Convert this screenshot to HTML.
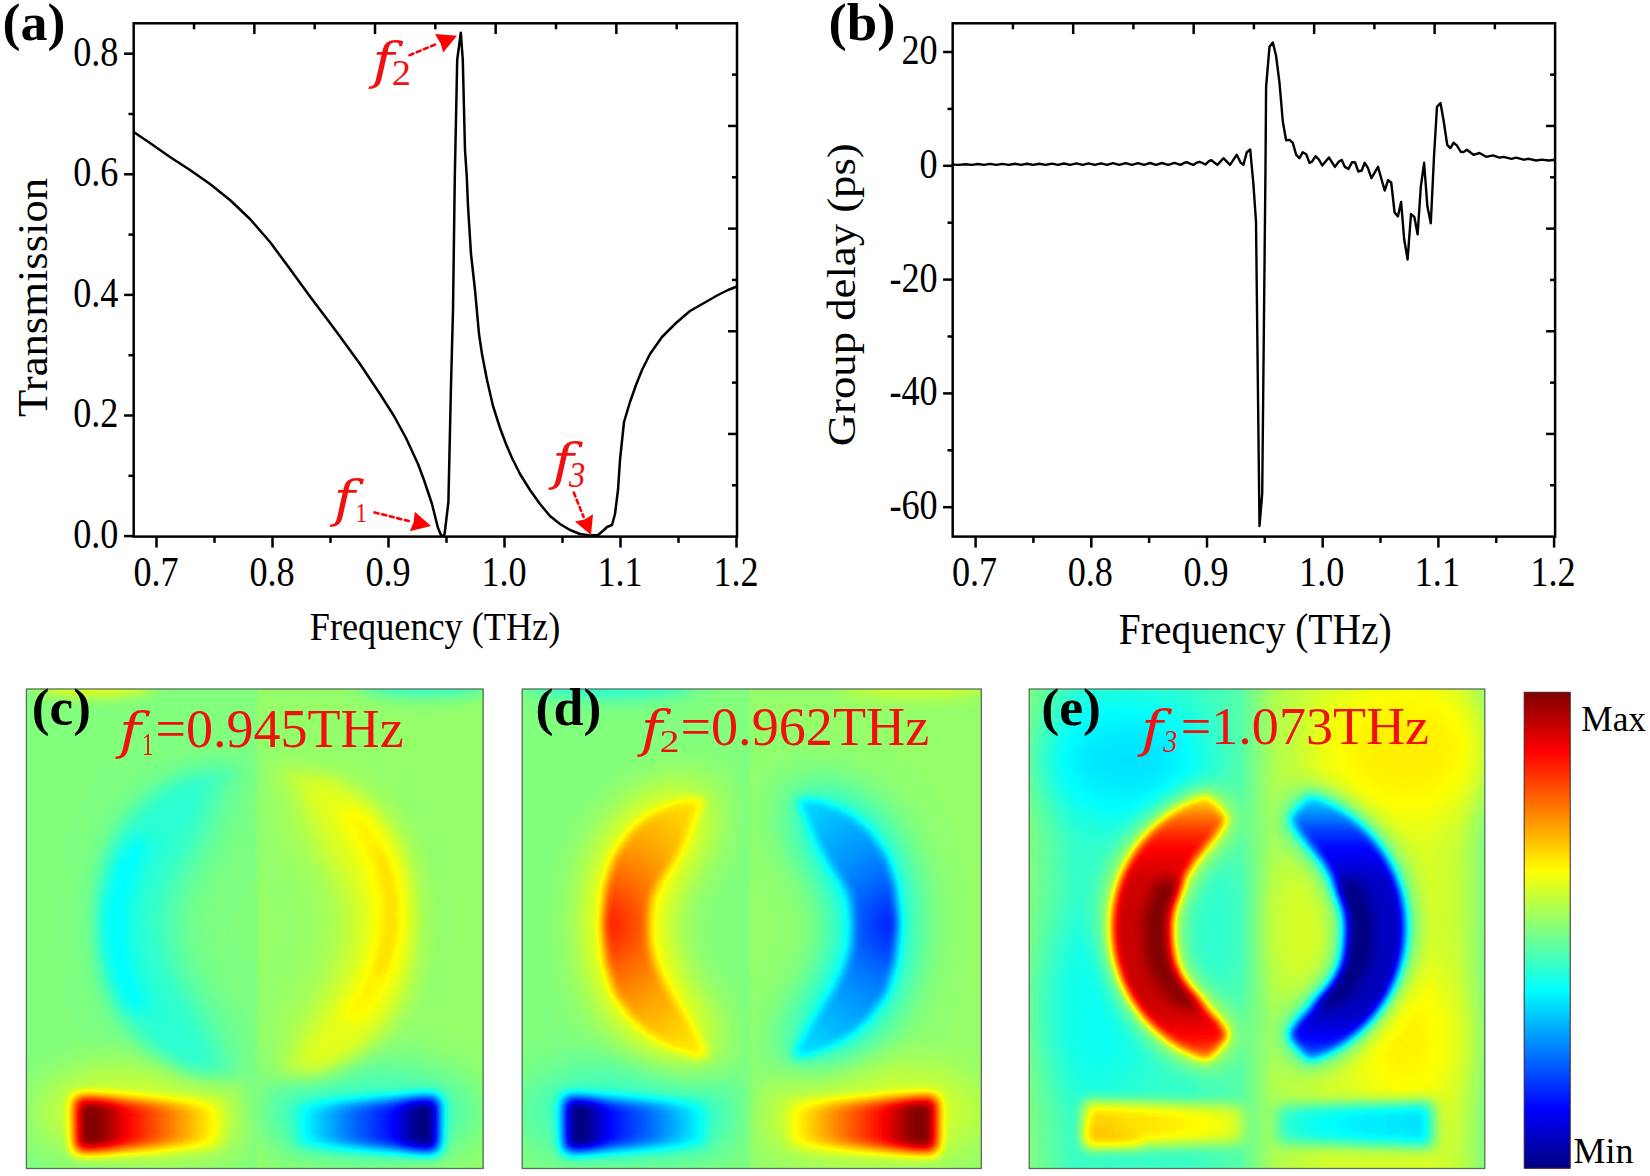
<!DOCTYPE html>
<html><head><meta charset="utf-8"><title>Figure</title>
<style>html,body{margin:0;padding:0;background:#fff}svg{display:block}text{font-family:'Liberation Serif', 'Times New Roman', serif}</style></head>
<body><svg width="1650" height="1176" viewBox="0 0 1650 1176">
<rect width="1650" height="1176" fill="#fff"/>
<rect x="133.7" y="23.3" width="603.30" height="513.30" fill="#fff" stroke="#000" stroke-width="2.5"/>
<line x1="124.10" y1="53.70" x2="133.70" y2="53.70" stroke="#000" stroke-width="2.5" stroke-linecap="butt"/>
<line x1="124.10" y1="174.30" x2="133.70" y2="174.30" stroke="#000" stroke-width="2.5" stroke-linecap="butt"/>
<line x1="124.10" y1="294.90" x2="133.70" y2="294.90" stroke="#000" stroke-width="2.5" stroke-linecap="butt"/>
<line x1="124.10" y1="415.50" x2="133.70" y2="415.50" stroke="#000" stroke-width="2.5" stroke-linecap="butt"/>
<line x1="124.10" y1="536.10" x2="133.70" y2="536.10" stroke="#000" stroke-width="2.5" stroke-linecap="butt"/>
<line x1="128.50" y1="114.00" x2="133.70" y2="114.00" stroke="#000" stroke-width="2.5" stroke-linecap="butt"/>
<line x1="128.50" y1="234.60" x2="133.70" y2="234.60" stroke="#000" stroke-width="2.5" stroke-linecap="butt"/>
<line x1="128.50" y1="355.20" x2="133.70" y2="355.20" stroke="#000" stroke-width="2.5" stroke-linecap="butt"/>
<line x1="128.50" y1="475.80" x2="133.70" y2="475.80" stroke="#000" stroke-width="2.5" stroke-linecap="butt"/>
<line x1="156.50" y1="536.60" x2="156.50" y2="547.60" stroke="#000" stroke-width="2.5" stroke-linecap="butt"/>
<line x1="272.50" y1="536.60" x2="272.50" y2="547.60" stroke="#000" stroke-width="2.5" stroke-linecap="butt"/>
<line x1="388.50" y1="536.60" x2="388.50" y2="547.60" stroke="#000" stroke-width="2.5" stroke-linecap="butt"/>
<line x1="504.50" y1="536.60" x2="504.50" y2="547.60" stroke="#000" stroke-width="2.5" stroke-linecap="butt"/>
<line x1="620.50" y1="536.60" x2="620.50" y2="547.60" stroke="#000" stroke-width="2.5" stroke-linecap="butt"/>
<line x1="736.50" y1="536.60" x2="736.50" y2="547.60" stroke="#000" stroke-width="2.5" stroke-linecap="butt"/>
<line x1="214.50" y1="536.60" x2="214.50" y2="542.90" stroke="#000" stroke-width="2.5" stroke-linecap="butt"/>
<line x1="330.50" y1="536.60" x2="330.50" y2="542.90" stroke="#000" stroke-width="2.5" stroke-linecap="butt"/>
<line x1="446.50" y1="536.60" x2="446.50" y2="542.90" stroke="#000" stroke-width="2.5" stroke-linecap="butt"/>
<line x1="562.50" y1="536.60" x2="562.50" y2="542.90" stroke="#000" stroke-width="2.5" stroke-linecap="butt"/>
<line x1="678.50" y1="536.60" x2="678.50" y2="542.90" stroke="#000" stroke-width="2.5" stroke-linecap="butt"/>
<line x1="254.36" y1="23.30" x2="254.36" y2="34.10" stroke="#000" stroke-width="2.5" stroke-linecap="butt"/>
<line x1="375.02" y1="23.30" x2="375.02" y2="34.10" stroke="#000" stroke-width="2.5" stroke-linecap="butt"/>
<line x1="495.68" y1="23.30" x2="495.68" y2="34.10" stroke="#000" stroke-width="2.5" stroke-linecap="butt"/>
<line x1="616.34" y1="23.30" x2="616.34" y2="34.10" stroke="#000" stroke-width="2.5" stroke-linecap="butt"/>
<line x1="194.03" y1="23.30" x2="194.03" y2="29.30" stroke="#000" stroke-width="2.5" stroke-linecap="butt"/>
<line x1="314.69" y1="23.30" x2="314.69" y2="29.30" stroke="#000" stroke-width="2.5" stroke-linecap="butt"/>
<line x1="435.35" y1="23.30" x2="435.35" y2="29.30" stroke="#000" stroke-width="2.5" stroke-linecap="butt"/>
<line x1="556.01" y1="23.30" x2="556.01" y2="29.30" stroke="#000" stroke-width="2.5" stroke-linecap="butt"/>
<line x1="676.67" y1="23.30" x2="676.67" y2="29.30" stroke="#000" stroke-width="2.5" stroke-linecap="butt"/>
<line x1="737.00" y1="125.96" x2="728.00" y2="125.96" stroke="#000" stroke-width="2.5" stroke-linecap="butt"/>
<line x1="737.00" y1="228.62" x2="728.00" y2="228.62" stroke="#000" stroke-width="2.5" stroke-linecap="butt"/>
<line x1="737.00" y1="331.28" x2="728.00" y2="331.28" stroke="#000" stroke-width="2.5" stroke-linecap="butt"/>
<line x1="737.00" y1="433.94" x2="728.00" y2="433.94" stroke="#000" stroke-width="2.5" stroke-linecap="butt"/>
<line x1="737.00" y1="74.63" x2="732.00" y2="74.63" stroke="#000" stroke-width="2.5" stroke-linecap="butt"/>
<line x1="737.00" y1="177.29" x2="732.00" y2="177.29" stroke="#000" stroke-width="2.5" stroke-linecap="butt"/>
<line x1="737.00" y1="279.95" x2="732.00" y2="279.95" stroke="#000" stroke-width="2.5" stroke-linecap="butt"/>
<line x1="737.00" y1="382.61" x2="732.00" y2="382.61" stroke="#000" stroke-width="2.5" stroke-linecap="butt"/>
<line x1="737.00" y1="485.27" x2="732.00" y2="485.27" stroke="#000" stroke-width="2.5" stroke-linecap="butt"/>
<path d="M133.7,132.0 L150.0,143.0 L170.0,157.0 L190.0,170.0 L210.0,184.0 L230.0,200.0 L250.0,219.0 L270.0,242.0 L290.0,269.0 L310.0,296.5 L330.0,323.0 L340.0,336.5 L360.0,364.0 L380.0,394.0 L394.0,416.0 L406.0,438.0 L418.0,464.0 L424.0,480.0 L432.0,504.0 L438.0,528.0 L441.0,535.0 L443.4,536.2 L444.6,534.0 L448.4,502.0 L451.0,385.0 L453.0,310.0 L454.8,177.0 L457.2,60.0 L460.8,32.7 L462.8,60.0 L465.0,150.0 L466.8,177.0 L468.0,206.0 L471.0,254.0 L475.0,290.0 L479.0,334.0 L482.0,354.0 L487.0,380.0 L493.0,406.0 L500.0,428.0 L506.0,444.0 L512.0,458.0 L520.0,474.0 L530.0,490.0 L540.0,504.0 L550.0,516.0 L560.0,524.0 L570.0,530.0 L580.0,534.0 L590.0,535.6 L598.0,535.0 L604.0,530.0 L607.0,527.0 L612.0,525.0 L615.0,514.0 L618.0,490.0 L620.0,460.0 L624.0,422.0 L630.0,402.0 L636.0,385.0 L642.0,370.0 L650.0,354.0 L662.0,337.0 L676.0,323.0 L690.0,311.0 L704.0,303.0 L718.0,295.0 L728.0,290.0 L737.0,286.5" fill="none" stroke="#000" stroke-width="2.5" stroke-linejoin="round"/>
<text transform="translate(118.45,65.59) scale(1,1.1550)" font-size="36.20" text-anchor="end" fill="#000">0.8</text>
<text transform="translate(118.45,186.19) scale(1,1.1550)" font-size="36.20" text-anchor="end" fill="#000">0.6</text>
<text transform="translate(118.45,306.79) scale(1,1.1550)" font-size="36.20" text-anchor="end" fill="#000">0.4</text>
<text transform="translate(118.45,427.39) scale(1,1.1550)" font-size="36.20" text-anchor="end" fill="#000">0.2</text>
<text transform="translate(118.45,547.99) scale(1,1.1550)" font-size="36.20" text-anchor="end" fill="#000">0.0</text>
<text transform="translate(156.10,585.58) scale(1,1.1550)" font-size="36.20" text-anchor="middle" fill="#000">0.7</text>
<text transform="translate(272.10,585.58) scale(1,1.1550)" font-size="36.20" text-anchor="middle" fill="#000">0.8</text>
<text transform="translate(388.10,585.58) scale(1,1.1550)" font-size="36.20" text-anchor="middle" fill="#000">0.9</text>
<text transform="translate(504.10,585.58) scale(1,1.1550)" font-size="36.20" text-anchor="middle" fill="#000">1.0</text>
<text transform="translate(620.10,585.58) scale(1,1.1550)" font-size="36.20" text-anchor="middle" fill="#000">1.1</text>
<text transform="translate(736.10,585.58) scale(1,1.1550)" font-size="36.20" text-anchor="middle" fill="#000">1.2</text>
<text transform="translate(2.54,39.96) scale(1,0.9736)" font-size="53.98" font-weight="bold" fill="#000">(a)</text>
<text transform="translate(309.81,639.94) scale(1,1.1256)" font-size="36.23" fill="#000">Frequency (THz)</text>
<text transform="translate(47.08,416.89) rotate(-90) scale(1,0.9397)" font-size="44.66" fill="#000">Transmission</text>
<text transform="translate(372.28,78.28) scale(1.169,1.0000)" font-size="51.04" font-style="italic" style="font-family:'DejaVu Serif','Liberation Serif',serif" fill="#f01010">f</text>
<text transform="translate(391.76,84.70) scale(1,0.9351)" font-size="38.50" fill="#f01010">2</text>
<line x1="409.5" y1="55.2" x2="437.5" y2="43.6" stroke="#f00" stroke-width="2.6" stroke-dasharray="4.2 3.6" stroke-linecap="round"/>
<path d="M456.9,35.7 L435.0,34.0 L440.6,43.4 L443.2,52.5Z" fill="#f00" stroke="none" />
<text transform="translate(333.52,516.28) scale(1.148,1.0000)" font-size="51.04" font-style="italic" style="font-family:'DejaVu Serif','Liberation Serif',serif" fill="#f01010">f</text>
<text transform="translate(355.44,522.00) scale(1,1.2263)" font-size="22.86" fill="#f01010">1</text>
<line x1="374.5" y1="512.4" x2="411" y2="521.6" stroke="#f00" stroke-width="2.6" stroke-dasharray="4.2 3.6" stroke-linecap="round"/>
<path d="M431.0,526.0 L414.8,511.8 L413.6,522.2 L409.8,531.2Z" fill="#f00" stroke="none" />
<text transform="translate(552.07,479.28) scale(1.165,1.0000)" font-size="51.04" font-style="italic" style="font-family:'DejaVu Serif','Liberation Serif',serif" fill="#f01010">f</text>
<text transform="translate(569.00,487.15) scale(1,1.0687)" font-size="32.61" font-style="italic" fill="#f01010">3</text>
<line x1="573.8" y1="492.5" x2="583.6" y2="517" stroke="#f00" stroke-width="2.6" stroke-dasharray="4.2 3.6" stroke-linecap="round"/>
<path d="M591.0,535.0 L575.0,521.4 L584.6,519.5 L593.0,514.2Z" fill="#f00" stroke="none" />
<rect x="952.7" y="23.3" width="602.40" height="513.30" fill="#fff" stroke="#000" stroke-width="2.5"/>
<line x1="943.10" y1="52.00" x2="952.70" y2="52.00" stroke="#000" stroke-width="2.5" stroke-linecap="butt"/>
<line x1="943.10" y1="165.80" x2="952.70" y2="165.80" stroke="#000" stroke-width="2.5" stroke-linecap="butt"/>
<line x1="943.10" y1="279.60" x2="952.70" y2="279.60" stroke="#000" stroke-width="2.5" stroke-linecap="butt"/>
<line x1="943.10" y1="393.40" x2="952.70" y2="393.40" stroke="#000" stroke-width="2.5" stroke-linecap="butt"/>
<line x1="943.10" y1="507.20" x2="952.70" y2="507.20" stroke="#000" stroke-width="2.5" stroke-linecap="butt"/>
<line x1="947.50" y1="108.90" x2="952.70" y2="108.90" stroke="#000" stroke-width="2.5" stroke-linecap="butt"/>
<line x1="947.50" y1="222.70" x2="952.70" y2="222.70" stroke="#000" stroke-width="2.5" stroke-linecap="butt"/>
<line x1="947.50" y1="336.50" x2="952.70" y2="336.50" stroke="#000" stroke-width="2.5" stroke-linecap="butt"/>
<line x1="947.50" y1="450.30" x2="952.70" y2="450.30" stroke="#000" stroke-width="2.5" stroke-linecap="butt"/>
<line x1="975.60" y1="536.60" x2="975.60" y2="547.60" stroke="#000" stroke-width="2.5" stroke-linecap="butt"/>
<line x1="1091.30" y1="536.60" x2="1091.30" y2="547.60" stroke="#000" stroke-width="2.5" stroke-linecap="butt"/>
<line x1="1207.00" y1="536.60" x2="1207.00" y2="547.60" stroke="#000" stroke-width="2.5" stroke-linecap="butt"/>
<line x1="1322.70" y1="536.60" x2="1322.70" y2="547.60" stroke="#000" stroke-width="2.5" stroke-linecap="butt"/>
<line x1="1438.40" y1="536.60" x2="1438.40" y2="547.60" stroke="#000" stroke-width="2.5" stroke-linecap="butt"/>
<line x1="1554.10" y1="536.60" x2="1554.10" y2="547.60" stroke="#000" stroke-width="2.5" stroke-linecap="butt"/>
<line x1="1033.40" y1="536.60" x2="1033.40" y2="542.90" stroke="#000" stroke-width="2.5" stroke-linecap="butt"/>
<line x1="1149.10" y1="536.60" x2="1149.10" y2="542.90" stroke="#000" stroke-width="2.5" stroke-linecap="butt"/>
<line x1="1264.80" y1="536.60" x2="1264.80" y2="542.90" stroke="#000" stroke-width="2.5" stroke-linecap="butt"/>
<line x1="1380.50" y1="536.60" x2="1380.50" y2="542.90" stroke="#000" stroke-width="2.5" stroke-linecap="butt"/>
<line x1="1496.20" y1="536.60" x2="1496.20" y2="542.90" stroke="#000" stroke-width="2.5" stroke-linecap="butt"/>
<line x1="1073.18" y1="23.30" x2="1073.18" y2="34.10" stroke="#000" stroke-width="2.5" stroke-linecap="butt"/>
<line x1="1193.66" y1="23.30" x2="1193.66" y2="34.10" stroke="#000" stroke-width="2.5" stroke-linecap="butt"/>
<line x1="1314.14" y1="23.30" x2="1314.14" y2="34.10" stroke="#000" stroke-width="2.5" stroke-linecap="butt"/>
<line x1="1434.62" y1="23.30" x2="1434.62" y2="34.10" stroke="#000" stroke-width="2.5" stroke-linecap="butt"/>
<line x1="1012.94" y1="23.30" x2="1012.94" y2="29.30" stroke="#000" stroke-width="2.5" stroke-linecap="butt"/>
<line x1="1133.42" y1="23.30" x2="1133.42" y2="29.30" stroke="#000" stroke-width="2.5" stroke-linecap="butt"/>
<line x1="1253.90" y1="23.30" x2="1253.90" y2="29.30" stroke="#000" stroke-width="2.5" stroke-linecap="butt"/>
<line x1="1374.38" y1="23.30" x2="1374.38" y2="29.30" stroke="#000" stroke-width="2.5" stroke-linecap="butt"/>
<line x1="1494.86" y1="23.30" x2="1494.86" y2="29.30" stroke="#000" stroke-width="2.5" stroke-linecap="butt"/>
<line x1="1555.10" y1="125.96" x2="1546.10" y2="125.96" stroke="#000" stroke-width="2.5" stroke-linecap="butt"/>
<line x1="1555.10" y1="228.62" x2="1546.10" y2="228.62" stroke="#000" stroke-width="2.5" stroke-linecap="butt"/>
<line x1="1555.10" y1="331.28" x2="1546.10" y2="331.28" stroke="#000" stroke-width="2.5" stroke-linecap="butt"/>
<line x1="1555.10" y1="433.94" x2="1546.10" y2="433.94" stroke="#000" stroke-width="2.5" stroke-linecap="butt"/>
<line x1="1555.10" y1="74.63" x2="1550.10" y2="74.63" stroke="#000" stroke-width="2.5" stroke-linecap="butt"/>
<line x1="1555.10" y1="177.29" x2="1550.10" y2="177.29" stroke="#000" stroke-width="2.5" stroke-linecap="butt"/>
<line x1="1555.10" y1="279.95" x2="1550.10" y2="279.95" stroke="#000" stroke-width="2.5" stroke-linecap="butt"/>
<line x1="1555.10" y1="382.61" x2="1550.10" y2="382.61" stroke="#000" stroke-width="2.5" stroke-linecap="butt"/>
<line x1="1555.10" y1="485.27" x2="1550.10" y2="485.27" stroke="#000" stroke-width="2.5" stroke-linecap="butt"/>
<path d="M952.7,164.6 L959.0,164.9 L965.5,164.2 L971.8,164.9 L978.0,164.0 L984.0,164.9 L990.0,163.9 L996.2,164.9 L1002.4,163.9 L1008.7,164.9 L1015.0,163.8 L1021.0,164.9 L1027.0,163.7 L1033.2,164.9 L1039.4,163.7 L1045.7,164.9 L1052.0,163.6 L1058.0,164.9 L1064.0,163.5 L1070.2,164.9 L1076.4,163.4 L1082.5,164.9 L1088.6,163.4 L1094.8,164.9 L1101.0,163.3 L1107.0,164.9 L1113.0,163.2 L1119.3,164.9 L1125.6,163.2 L1131.8,164.9 L1138.0,163.1 L1144.0,164.9 L1150.0,163.0 L1156.0,164.9 L1162.0,163.0 L1168.2,164.9 L1174.4,162.9 L1180.6,164.9 L1184.0,163.0 L1186.7,162.2 L1190.0,163.6 L1193.4,164.9 L1197.0,162.6 L1199.4,161.8 L1202.5,163.0 L1205.4,164.5 L1209.0,161.2 L1211.4,160.2 L1217.4,164.9 L1223.4,158.2 L1230.0,164.9 L1236.7,154.8 L1240.6,162.5 L1243.4,164.9 L1246.8,152.2 L1250.2,149.5 L1253.4,184.0 L1256.0,221.6 L1259.5,526.0 L1262.2,493.7 L1265.4,177.0 L1266.1,86.8 L1269.5,46.7 L1272.8,42.4 L1276.1,56.0 L1279.5,82.8 L1282.8,121.5 L1286.1,140.2 L1289.5,139.9 L1292.8,142.8 L1296.2,154.8 L1299.5,158.2 L1302.8,152.2 L1306.2,154.2 L1309.5,162.9 L1312.2,161.5 L1315.5,156.2 L1318.9,159.5 L1322.2,165.5 L1328.9,157.5 L1334.9,166.9 L1338.9,161.5 L1341.8,159.9 L1344.9,166.9 L1348.5,168.9 L1352.1,162.1 L1355.1,162.5 L1358.3,171.5 L1361.7,170.5 L1364.7,162.8 L1368.0,168.1 L1371.4,178.1 L1378.0,166.8 L1384.7,190.5 L1388.1,180.2 L1391.2,182.5 L1394.6,212.5 L1397.9,216.4 L1401.1,201.9 L1404.2,239.5 L1407.6,259.5 L1411.0,214.0 L1414.4,217.2 L1417.6,234.3 L1420.8,186.8 L1424.1,162.8 L1427.4,206.6 L1430.8,223.2 L1434.1,154.8 L1437.0,106.7 L1440.5,103.0 L1443.5,120.0 L1447.2,144.8 L1450.4,148.1 L1453.5,142.8 L1456.8,145.4 L1460.8,151.8 L1463.5,152.1 L1466.8,149.7 L1473.5,154.8 L1479.5,153.0 L1486.2,156.8 L1492.9,155.4 L1499.5,157.7 L1503.5,156.8 L1511.5,158.8 L1516.2,157.7 L1523.6,159.7 L1528.9,158.8 L1536.2,160.5 L1541.6,159.6 L1548.9,160.5 L1555.0,159.8" fill="none" stroke="#000" stroke-width="2.4" stroke-linejoin="round"/>
<text transform="translate(937.65,63.99) scale(1,1.1550)" font-size="36.20" text-anchor="end" fill="#000">20</text>
<text transform="translate(937.65,177.79) scale(1,1.1550)" font-size="36.20" text-anchor="end" fill="#000">0</text>
<text transform="translate(937.65,291.59) scale(1,1.1550)" font-size="36.20" text-anchor="end" fill="#000">-20</text>
<text transform="translate(937.65,405.39) scale(1,1.1550)" font-size="36.20" text-anchor="end" fill="#000">-40</text>
<text transform="translate(937.65,519.19) scale(1,1.1550)" font-size="36.20" text-anchor="end" fill="#000">-60</text>
<text transform="translate(974.60,585.58) scale(1,1.1550)" font-size="36.20" text-anchor="middle" fill="#000">0.7</text>
<text transform="translate(1090.30,585.58) scale(1,1.1550)" font-size="36.20" text-anchor="middle" fill="#000">0.8</text>
<text transform="translate(1206.00,585.58) scale(1,1.1550)" font-size="36.20" text-anchor="middle" fill="#000">0.9</text>
<text transform="translate(1321.70,585.58) scale(1,1.1550)" font-size="36.20" text-anchor="middle" fill="#000">1.0</text>
<text transform="translate(1437.40,585.58) scale(1,1.1550)" font-size="36.20" text-anchor="middle" fill="#000">1.1</text>
<text transform="translate(1553.10,585.58) scale(1,1.1550)" font-size="36.20" text-anchor="middle" fill="#000">1.2</text>
<text transform="translate(828.61,39.96) scale(1,0.9586)" font-size="54.82" font-weight="bold" fill="#000">(b)</text>
<text transform="translate(1118.82,644.35) scale(1,1.1034)" font-size="39.47" fill="#000">Frequency (THz)</text>
<text transform="translate(855.48,446.19) rotate(-90) scale(1,0.9071)" font-size="44.71" fill="#000">Group delay (ps)</text>
<clipPath id="cpc"><rect x="26.4" y="689.0" width="456.7" height="479.5"/></clipPath>
<g clip-path="url(#cpc)"><g filter="url(#jet)">
<rect x="21.4" y="684.0" width="466.7" height="489.5" fill="#808080"/>
<rect x="257.0" y="684.0" width="231.1" height="489.5" fill="#858585"/>
<ellipse cx="95.0" cy="683.0" rx="60.0" ry="11.0" fill="#a3a3a3" filter="url(#b8)"/>
<ellipse cx="425.0" cy="683.0" rx="65.0" ry="12.0" fill="#666666" filter="url(#b9)"/>
<ellipse cx="150.0" cy="1112.0" rx="115.0" ry="50.0" fill="#999999" filter="url(#b20)" opacity="0.8"/>
<ellipse cx="365.0" cy="1112.0" rx="115.0" ry="50.0" fill="#6b6b6b" filter="url(#b20)" opacity="0.8"/>
<path d="M243.0,771.8 L232.5,769.5 L222.2,770.7 L212.1,773.1 L202.1,776.6 L192.4,781.0 L183.1,786.2 L174.1,792.3 L165.5,799.1 L157.5,806.7 L149.9,815.0 L143.0,823.9 L136.7,833.3 L131.0,843.3 L126.1,853.7 L121.8,864.5 L118.3,875.6 L115.6,886.9 L113.6,898.5 L112.4,910.2 L112.0,922.0 L112.4,933.8 L113.6,945.5 L115.6,957.1 L118.3,968.4 L121.8,979.5 L126.1,990.3 L131.0,1000.7 L136.7,1010.7 L143.0,1020.1 L149.9,1029.0 L157.5,1037.3 L165.5,1044.9 L174.1,1051.7 L183.1,1057.8 L192.4,1063.0 L202.1,1067.4 L212.1,1070.9 L222.2,1073.3 L232.5,1074.5 L243.0,1072.2 L243.0,1072.2 L234.1,1066.7 L225.1,1063.2 L216.4,1059.4 L208.0,1055.0 L199.9,1050.0 L192.1,1044.5 L184.7,1038.5 L177.6,1031.8 L171.0,1024.7 L164.9,1017.1 L159.2,1009.0 L154.1,1000.4 L149.5,991.5 L145.4,982.2 L142.0,972.7 L139.1,962.9 L136.9,952.8 L135.3,942.6 L134.3,932.3 L134.0,922.0 L134.3,911.7 L135.3,901.4 L136.9,891.2 L139.1,881.1 L142.0,871.3 L145.4,861.8 L149.5,852.5 L154.1,843.6 L159.2,835.0 L164.9,826.9 L171.0,819.3 L177.6,812.2 L184.7,805.5 L192.1,799.5 L199.9,794.0 L208.0,789.0 L216.4,784.6 L225.1,780.8 L234.1,777.3 L243.0,771.8Z" fill="#696969" filter="url(#b10)"/>
<path d="M271.7,773.8 L282.0,771.5 L292.0,772.7 L302.0,775.0 L311.7,778.4 L321.2,782.8 L330.4,787.9 L339.2,793.9 L347.6,800.7 L355.5,808.2 L362.9,816.4 L369.7,825.1 L375.8,834.4 L381.4,844.3 L386.2,854.5 L390.4,865.2 L393.8,876.2 L396.5,887.4 L398.4,898.8 L399.6,910.4 L400.0,922.0 L399.6,933.6 L398.4,945.2 L396.5,956.6 L393.8,967.8 L390.4,978.8 L386.2,989.5 L381.4,999.7 L375.8,1009.6 L369.7,1018.9 L362.9,1027.6 L355.5,1035.8 L347.6,1043.3 L339.2,1050.1 L330.4,1056.1 L321.2,1061.2 L311.7,1065.6 L302.0,1069.0 L292.0,1071.3 L282.0,1072.5 L271.7,1070.2 L271.7,1070.2 L280.4,1064.8 L289.1,1061.3 L297.6,1057.5 L305.8,1053.2 L313.7,1048.3 L321.3,1042.8 L328.6,1036.9 L335.4,1030.3 L341.8,1023.3 L347.8,1015.8 L353.4,1007.8 L358.4,999.4 L362.9,990.6 L366.8,981.4 L370.2,972.0 L373.0,962.3 L375.2,952.4 L376.7,942.4 L377.7,932.2 L378.0,922.0 L377.7,911.8 L376.7,901.6 L375.2,891.6 L373.0,881.7 L370.2,872.0 L366.8,862.6 L362.9,853.4 L358.4,844.6 L353.4,836.2 L347.8,828.2 L341.8,820.7 L335.4,813.7 L328.6,807.1 L321.3,801.2 L313.7,795.7 L305.8,790.8 L297.6,786.5 L289.1,782.7 L280.4,779.2 L271.7,773.8Z" fill="#999999" filter="url(#b10)"/>
<path d="M209.0,780.8 L196.0,784.4 L179.0,792.5 L162.0,803.2 L145.0,819.8 L128.0,847.1 L119.0,879.2 L116.0,919.9 L119.0,961.6 L128.0,996.9 L145.0,1022.6 L162.0,1040.8 L179.0,1052.5 L196.0,1061.7 L213.0,1069.7 L231.0,1067.5 L229.0,1051.5 L216.0,1031.7 L204.5,1013.5 L196.0,999.9 L187.5,986.2 L178.0,964.8 L172.0,943.4 L171.0,919.9 L173.0,895.2 L180.0,879.2 L191.0,863.1 L196.0,854.4 L204.5,838.0 L213.0,819.8 L222.0,801.6 L229.0,786.1Z" fill="#6b6b6b" filter="url(#b24)"/>
<path d="M193.0,780.8 L180.0,784.4 L163.0,792.5 L146.0,803.2 L129.0,819.8 L112.0,847.1 L103.0,879.2 L100.0,919.9 L103.0,961.6 L112.0,996.9 L129.0,1022.6 L146.0,1040.8 L163.0,1052.5 L180.0,1061.7 L197.0,1069.7 L215.0,1067.5 L213.0,1051.5 L200.0,1031.7 L188.5,1013.5 L180.0,999.9 L171.5,986.2 L162.0,964.8 L156.0,943.4 L155.0,919.9 L157.0,895.2 L164.0,879.2 L175.0,863.1 L180.0,854.4 L188.5,838.0 L197.0,819.8 L206.0,801.6 L213.0,786.1Z" fill="#6b6b6b" filter="url(#b11)"/>
<path d="M129.8,840.0 L127.0,844.2 L124.4,848.5 L121.9,852.8 L119.7,857.0 L117.6,861.2 L115.7,865.5 L113.9,869.8 L112.3,874.0 L110.8,878.2 L109.5,882.5 L108.3,886.8 L107.2,891.0 L106.2,895.2 L105.4,899.5 L104.7,903.8 L104.2,908.0 L103.7,912.2 L103.4,916.5 L103.2,920.8 L103.1,925.0 L103.1,929.2 L103.3,933.5 L103.6,937.8 L103.9,942.0 L104.5,946.2 L105.1,950.5 L105.8,954.8 L106.7,959.0 L107.7,963.2 L108.9,967.5 L110.2,971.8 L111.6,976.0 L113.1,980.2 L114.8,984.5 L116.7,988.8 L118.7,993.0 L120.8,997.2 L123.2,1001.5 L125.7,1005.8 L128.4,1010.0 L152.8,1010.0 L150.3,1005.8 L148.1,1001.5 L146.0,997.2 L144.0,993.0 L142.2,988.8 L140.5,984.5 L139.0,980.2 L137.5,976.0 L136.3,971.8 L135.1,967.5 L134.1,963.2 L133.1,959.0 L132.3,954.8 L131.6,950.5 L131.0,946.2 L130.6,942.0 L130.2,937.8 L130.0,933.5 L129.8,929.2 L129.8,925.0 L129.9,920.8 L130.1,916.5 L130.4,912.2 L130.8,908.0 L131.3,903.8 L131.9,899.5 L132.7,895.2 L133.6,891.0 L134.5,886.8 L135.6,882.5 L136.9,878.2 L138.2,874.0 L139.7,869.8 L141.3,865.5 L143.0,861.2 L144.9,857.0 L146.9,852.8 L149.1,848.5 L151.4,844.2 L154.0,840.0Z" fill="#5c5c5c" filter="url(#b8)" opacity="0.8"/>
<path d="M306.0,780.8 L319.0,784.4 L336.0,792.5 L353.0,803.2 L370.0,819.8 L387.0,847.1 L396.0,879.2 L399.0,919.9 L396.0,961.6 L387.0,996.9 L370.0,1022.6 L353.0,1040.8 L336.0,1052.5 L319.0,1061.7 L302.0,1069.7 L284.0,1067.5 L286.0,1051.5 L299.0,1031.7 L310.5,1013.5 L319.0,999.9 L327.5,986.2 L337.0,964.8 L343.0,943.4 L344.0,919.9 L342.0,895.2 L335.0,879.2 L324.0,863.1 L319.0,854.4 L310.5,838.0 L302.0,819.8 L293.0,801.6 L286.0,786.1Z" fill="#969696" filter="url(#b24)"/>
<path d="M322.0,780.8 L335.0,784.4 L352.0,792.5 L369.0,803.2 L386.0,819.8 L403.0,847.1 L412.0,879.2 L415.0,919.9 L412.0,961.6 L403.0,996.9 L386.0,1022.6 L369.0,1040.8 L352.0,1052.5 L335.0,1061.7 L318.0,1069.7 L300.0,1067.5 L302.0,1051.5 L315.0,1031.7 L326.5,1013.5 L335.0,999.9 L343.5,986.2 L353.0,964.8 L359.0,943.4 L360.0,919.9 L358.0,895.2 L351.0,879.2 L340.0,863.1 L335.0,854.4 L326.5,838.0 L318.0,819.8 L309.0,801.6 L302.0,786.1Z" fill="#999999" filter="url(#b11)"/>
<path d="M359.8,810.0 L364.9,815.2 L369.5,820.5 L373.7,825.8 L377.5,831.0 L381.0,836.2 L384.1,841.5 L387.0,846.8 L389.7,852.0 L392.0,857.2 L394.2,862.5 L396.1,867.8 L397.8,873.0 L399.2,878.2 L400.5,883.5 L401.6,888.8 L402.5,894.0 L403.2,899.2 L403.7,904.5 L404.0,909.8 L404.1,915.0 L404.0,920.2 L403.8,925.5 L403.4,930.8 L402.8,936.0 L401.9,941.2 L400.9,946.5 L399.7,951.8 L398.3,957.0 L396.7,962.2 L394.9,967.5 L392.9,972.8 L390.6,978.0 L388.1,983.2 L385.3,988.5 L382.2,993.8 L378.8,999.0 L375.2,1004.2 L371.1,1009.5 L366.7,1014.8 L361.8,1020.0 L336.6,1020.0 L340.9,1014.8 L344.8,1009.5 L348.5,1004.2 L351.8,999.0 L354.8,993.8 L357.6,988.5 L360.2,983.2 L362.5,978.0 L364.6,972.8 L366.5,967.5 L368.2,962.2 L369.7,957.0 L371.0,951.8 L372.1,946.5 L373.0,941.2 L373.7,936.0 L374.3,930.8 L374.7,925.5 L374.9,920.2 L375.0,915.0 L374.9,909.8 L374.6,904.5 L374.1,899.2 L373.5,894.0 L372.7,888.8 L371.7,883.5 L370.5,878.2 L369.1,873.0 L367.6,867.8 L365.8,862.5 L363.8,857.2 L361.6,852.0 L359.2,846.8 L356.6,841.5 L353.7,836.2 L350.6,831.0 L347.1,825.8 L343.4,820.5 L339.3,815.2 L334.8,810.0Z" fill="#a6a6a6" filter="url(#b8)" opacity="0.8"/>
<path d="M381.7,850.0 L383.2,853.1 L384.6,856.2 L385.9,859.4 L387.1,862.5 L388.3,865.6 L389.3,868.8 L390.3,871.9 L391.2,875.0 L392.0,878.1 L392.7,881.2 L393.4,884.4 L394.0,887.5 L394.5,890.6 L394.9,893.8 L395.3,896.9 L395.6,900.0 L395.8,903.1 L396.0,906.2 L396.1,909.4 L396.1,912.5 L396.1,915.6 L395.9,918.8 L395.8,921.9 L395.5,925.0 L395.2,928.1 L394.8,931.2 L394.3,934.4 L393.8,937.5 L393.2,940.6 L392.5,943.8 L391.7,946.9 L390.9,950.0 L390.0,953.1 L389.0,956.2 L387.9,959.4 L386.7,962.5 L385.5,965.6 L384.2,968.8 L382.8,971.9 L381.2,975.0 L373.3,975.0 L374.7,971.9 L376.0,968.8 L377.2,965.6 L378.4,962.5 L379.4,959.4 L380.4,956.2 L381.3,953.1 L382.2,950.0 L382.9,946.9 L383.6,943.8 L384.3,940.6 L384.8,937.5 L385.3,934.4 L385.8,931.2 L386.1,928.1 L386.4,925.0 L386.7,921.9 L386.9,918.8 L387.0,915.6 L387.0,912.5 L387.0,909.4 L386.9,906.2 L386.7,903.1 L386.5,900.0 L386.2,896.9 L385.9,893.8 L385.5,890.6 L385.0,887.5 L384.5,884.4 L383.9,881.2 L383.2,878.1 L382.4,875.0 L381.6,871.9 L380.7,868.8 L379.8,865.6 L378.7,862.5 L377.6,859.4 L376.4,856.2 L375.1,853.1 L373.8,850.0Z" fill="#adadad" filter="url(#b5)" opacity="0.6"/>
<linearGradient id="lg1" gradientUnits="userSpaceOnUse" x1="75.0" y1="0.0" x2="222.0" y2="0.0"><stop offset="0.000" stop-color="#ffffff"/><stop offset="0.160" stop-color="#ffffff"/><stop offset="0.360" stop-color="#dfdfdf"/><stop offset="0.660" stop-color="#bfbfbf"/><stop offset="0.920" stop-color="#a3a3a3"/><stop offset="1.000" stop-color="#999999"/></linearGradient>
<path d="M75.0,1097.0 L222.0,1104.0 L222.0,1145.0 L75.0,1152.0Z" fill="url(#lg1)" filter="url(#b6_5)"/>
<linearGradient id="lg2" gradientUnits="userSpaceOnUse" x1="439.0" y1="0.0" x2="296.0" y2="0.0"><stop offset="0.000" stop-color="#000000"/><stop offset="0.160" stop-color="#000000"/><stop offset="0.300" stop-color="#202020"/><stop offset="0.660" stop-color="#404040"/><stop offset="0.920" stop-color="#5c5c5c"/><stop offset="1.000" stop-color="#666666"/></linearGradient>
<path d="M439.0,1097.0 L296.0,1104.0 L296.0,1145.0 L439.0,1152.0Z" fill="url(#lg2)" filter="url(#b6_5)"/>
</g></g>
<rect x="26.4" y="689.0" width="456.7" height="479.5" fill="none" stroke="#56705a" stroke-width="1.3"/>
<text transform="translate(31.87,725.48) scale(1,1.0045)" font-size="53.20" font-weight="bold" fill="#000">(c)</text>
<text transform="translate(119.09,747.50) scale(1.197,1.0000)" font-size="50.00" font-style="italic" style="font-family:'DejaVu Serif','Liberation Serif',serif" fill="#f01010">f</text>
<text transform="translate(141.94,754.80) scale(1,1.3788)" font-size="22.86" fill="#f01010">1</text>
<text transform="translate(155.50,746.51) scale(1,1.0050)" font-size="54.06" fill="#f01010">=0.945THz</text>
<clipPath id="cpd"><rect x="522.2" y="689.0" width="459.1" height="479.5"/></clipPath>
<g clip-path="url(#cpd)"><g filter="url(#jet)">
<rect x="517.2" y="684.0" width="469.1" height="489.5" fill="#808080"/>
<rect x="750.5" y="684.0" width="235.8" height="489.5" fill="#858585"/>
<ellipse cx="610.0" cy="682.0" rx="85.0" ry="14.0" fill="#636363" filter="url(#b10)"/>
<ellipse cx="915.0" cy="682.0" rx="75.0" ry="12.0" fill="#9c9c9c" filter="url(#b10)"/>
<ellipse cx="635.0" cy="1112.0" rx="115.0" ry="50.0" fill="#6b6b6b" filter="url(#b20)" opacity="0.8"/>
<ellipse cx="870.0" cy="1112.0" rx="115.0" ry="50.0" fill="#999999" filter="url(#b20)" opacity="0.8"/>
<path d="M691.0,793.0 L678.0,796.4 L661.0,804.0 L644.0,814.0 L627.0,829.5 L610.0,855.0 L601.0,885.0 L598.0,923.0 L601.0,962.0 L610.0,995.0 L627.0,1019.0 L644.0,1036.0 L661.0,1047.0 L678.0,1055.6 L695.0,1063.0 L713.0,1061.0 L711.0,1046.0 L698.0,1027.5 L686.5,1010.5 L678.0,997.8 L669.5,985.0 L660.0,965.0 L654.0,945.0 L653.0,923.0 L655.0,900.0 L662.0,885.0 L673.0,870.0 L678.0,861.8 L686.5,846.5 L695.0,829.5 L704.0,812.5 L711.0,798.0Z" fill="#bababa" filter="url(#b28)"/>
<radialGradient id="rg3" gradientUnits="userSpaceOnUse" cx="606.0" cy="925.0" r="150.0" gradientTransform="translate(606.0,925.0) scale(1,1.120) translate(-606.0,-925.0)"><stop offset="0.000" stop-color="#d9d9d9"/><stop offset="0.120" stop-color="#d1d1d1"/><stop offset="0.300" stop-color="#c4c4c4"/><stop offset="0.500" stop-color="#b8b8b8"/><stop offset="0.750" stop-color="#adadad"/><stop offset="1.000" stop-color="#a3a3a3"/></radialGradient>
<path d="M691.0,798.0 L679.7,801.1 L663.3,808.4 L647.0,818.0 L630.8,832.8 L614.5,857.1 L605.9,885.9 L603.0,923.0 L605.9,961.1 L614.5,992.9 L630.8,1015.8 L647.1,1032.1 L663.5,1042.7 L680.1,1051.1 L695.7,1058.1 L709.1,1057.9 L706.3,1047.8 L693.9,1030.3 L682.4,1013.3 L673.8,1000.6 L665.1,987.5 L655.3,966.8 L649.1,945.8 L648.0,922.9 L650.2,898.7 L657.7,882.5 L668.8,867.2 L673.7,859.3 L682.1,844.2 L690.6,827.2 L699.5,810.2 L706.5,800.1Z" fill="url(#rg3)" filter="url(#b5)"/>
<path d="M810.0,793.0 L823.0,796.4 L840.0,804.0 L857.0,814.0 L874.0,829.5 L891.0,855.0 L900.0,885.0 L903.0,923.0 L900.0,962.0 L891.0,995.0 L874.0,1019.0 L857.0,1036.0 L840.0,1047.0 L823.0,1055.6 L806.0,1063.0 L788.0,1061.0 L790.0,1046.0 L803.0,1027.5 L814.5,1010.5 L823.0,997.8 L831.5,985.0 L841.0,965.0 L847.0,945.0 L848.0,923.0 L846.0,900.0 L839.0,885.0 L828.0,870.0 L823.0,861.8 L814.5,846.5 L806.0,829.5 L797.0,812.5 L790.0,798.0Z" fill="#474747" filter="url(#b28)"/>
<radialGradient id="rg4" gradientUnits="userSpaceOnUse" cx="895.0" cy="925.0" r="150.0" gradientTransform="translate(895.0,925.0) scale(1,1.120) translate(-895.0,-925.0)"><stop offset="0.000" stop-color="#262626"/><stop offset="0.120" stop-color="#2e2e2e"/><stop offset="0.300" stop-color="#3b3b3b"/><stop offset="0.500" stop-color="#454545"/><stop offset="0.750" stop-color="#4f4f4f"/><stop offset="1.000" stop-color="#595959"/></radialGradient>
<path d="M810.0,798.0 L821.3,801.1 L837.7,808.4 L854.0,818.0 L870.2,832.8 L886.5,857.1 L895.1,885.9 L898.0,923.0 L895.1,961.1 L886.5,992.9 L870.2,1015.8 L853.9,1032.1 L837.5,1042.7 L820.9,1051.1 L805.3,1058.1 L791.9,1057.9 L794.7,1047.8 L807.1,1030.3 L818.6,1013.3 L827.2,1000.6 L835.9,987.5 L845.7,966.8 L851.9,945.8 L853.0,922.9 L850.8,898.7 L843.3,882.5 L832.2,867.2 L827.3,859.3 L818.9,844.2 L810.4,827.2 L801.5,810.2 L794.5,800.1Z" fill="url(#rg4)" filter="url(#b5)"/>
<linearGradient id="lg5" gradientUnits="userSpaceOnUse" x1="564.0" y1="0.0" x2="708.0" y2="0.0"><stop offset="0.000" stop-color="#000000"/><stop offset="0.160" stop-color="#000000"/><stop offset="0.300" stop-color="#202020"/><stop offset="0.660" stop-color="#404040"/><stop offset="0.920" stop-color="#5c5c5c"/><stop offset="1.000" stop-color="#666666"/></linearGradient>
<path d="M564.0,1097.0 L708.0,1104.0 L708.0,1145.0 L564.0,1152.0Z" fill="url(#lg5)" filter="url(#b6_5)"/>
<linearGradient id="lg6" gradientUnits="userSpaceOnUse" x1="937.0" y1="0.0" x2="788.0" y2="0.0"><stop offset="0.000" stop-color="#ffffff"/><stop offset="0.160" stop-color="#ffffff"/><stop offset="0.360" stop-color="#dfdfdf"/><stop offset="0.660" stop-color="#bfbfbf"/><stop offset="0.920" stop-color="#a3a3a3"/><stop offset="1.000" stop-color="#999999"/></linearGradient>
<path d="M937.0,1097.0 L788.0,1104.0 L788.0,1145.0 L937.0,1152.0Z" fill="url(#lg6)" filter="url(#b6_5)"/>
</g></g>
<rect x="522.2" y="689.0" width="459.1" height="479.5" fill="none" stroke="#56705a" stroke-width="1.3"/>
<text transform="translate(535.55,725.48) scale(1,0.9923)" font-size="53.86" font-weight="bold" fill="#000">(d)</text>
<text transform="translate(640.72,745.50) scale(1.172,1.0000)" font-size="50.00" font-style="italic" style="font-family:'DejaVu Serif','Liberation Serif',serif" fill="#f01010">f</text>
<text transform="translate(659.60,752.00) scale(1,0.7692)" font-size="40.00" fill="#f01010">2</text>
<text transform="translate(680.49,744.51) scale(1,1.0030)" font-size="54.17" fill="#f01010">=0.962THz</text>
<clipPath id="cpe"><rect x="1029.2" y="689.0" width="455.6" height="479.5"/></clipPath>
<g clip-path="url(#cpe)"><g filter="url(#jet)">
<linearGradient id="lg7" gradientUnits="userSpaceOnUse" x1="1029.2" y1="0.0" x2="1484.8" y2="0.0"><stop offset="0.000" stop-color="#808080"/><stop offset="0.040" stop-color="#787878"/><stop offset="0.100" stop-color="#6e6e6e"/><stop offset="0.350" stop-color="#6e6e6e"/><stop offset="0.460" stop-color="#757575"/><stop offset="0.500" stop-color="#808080"/><stop offset="0.540" stop-color="#8c8c8c"/><stop offset="0.650" stop-color="#949494"/><stop offset="0.880" stop-color="#969696"/><stop offset="0.940" stop-color="#919191"/><stop offset="0.985" stop-color="#858585"/><stop offset="1.000" stop-color="#808080"/></linearGradient>
<rect x="1024.2" y="684.0" width="465.6" height="489.5" fill="url(#lg7)"/>
<ellipse cx="1125.0" cy="760.0" rx="80.0" ry="60.0" fill="#595959" filter="url(#b25)"/>
<ellipse cx="1405.0" cy="750.0" rx="85.0" ry="70.0" fill="#a3a3a3" filter="url(#b25)"/>
<ellipse cx="1100.0" cy="1010.0" rx="50.0" ry="90.0" fill="#626262" filter="url(#b25)"/>
<ellipse cx="1405.0" cy="1040.0" rx="50.0" ry="70.0" fill="#a3a3a3" filter="url(#b25)"/>
<ellipse cx="1215.0" cy="928.0" rx="35.0" ry="60.0" fill="#6b6b6b" filter="url(#b20)"/>
<ellipse cx="1302.0" cy="928.0" rx="35.0" ry="60.0" fill="#969696" filter="url(#b20)"/>
<path d="M1208.5,792.0 L1190.9,798.8 L1178.0,805.6 L1167.7,812.4 L1159.0,819.2 L1151.5,826.0 L1145.0,832.8 L1139.2,839.6 L1134.2,846.4 L1129.7,853.2 L1125.8,860.0 L1122.3,866.8 L1119.3,873.6 L1116.7,880.4 L1114.5,887.2 L1112.6,894.0 L1111.1,900.8 L1110.0,907.6 L1109.2,914.4 L1108.7,921.2 L1108.5,928.0 L1108.7,934.8 L1109.2,941.6 L1110.0,948.4 L1111.1,955.2 L1112.6,962.0 L1114.5,968.8 L1116.7,975.6 L1119.3,982.4 L1122.3,989.2 L1125.8,996.0 L1129.7,1002.8 L1134.2,1009.6 L1139.2,1016.4 L1145.0,1023.2 L1151.5,1030.0 L1159.0,1036.8 L1167.7,1043.6 L1178.0,1050.4 L1190.9,1057.2 L1208.5,1064.0 L1232.0,1036.0 L1223.5,1021.0 L1206.5,1004.0 L1193.0,990.0 L1184.0,978.0 L1177.0,962.0 L1174.5,946.0 L1173.5,927.0 L1175.0,912.0 L1180.0,898.0 L1187.0,880.0 L1198.0,862.0 L1211.0,846.5 L1223.5,831.0 L1231.0,819.0Z" fill="#bdbdbd" filter="url(#b14)" opacity="0.85"/>
<linearGradient id="lg8" gradientUnits="userSpaceOnUse" x1="0.0" y1="792.0" x2="0.0" y2="1068.0"><stop offset="0.000" stop-color="#a8a8a8"/><stop offset="0.040" stop-color="#b0b0b0"/><stop offset="0.083" stop-color="#bfbfbf"/><stop offset="0.138" stop-color="#d1d1d1"/><stop offset="0.210" stop-color="#e0e0e0"/><stop offset="0.320" stop-color="#ebebeb"/><stop offset="0.750" stop-color="#ededed"/><stop offset="0.826" stop-color="#e8e8e8"/><stop offset="0.900" stop-color="#dbdbdb"/><stop offset="0.953" stop-color="#c7c7c7"/><stop offset="1.000" stop-color="#b8b8b8"/></linearGradient>
<path d="M1207.5,795.9 L1192.5,802.4 L1180.1,809.0 L1170.0,815.7 L1161.6,822.3 L1154.3,828.9 L1147.9,835.5 L1142.4,842.1 L1137.5,848.7 L1133.1,855.3 L1129.3,861.9 L1125.9,868.5 L1123.0,875.1 L1120.5,881.7 L1118.3,888.3 L1116.5,895.0 L1115.0,901.6 L1113.9,908.2 L1113.1,914.8 L1112.7,921.4 L1112.5,928.0 L1112.7,934.6 L1113.1,941.2 L1113.9,947.8 L1115.0,954.4 L1116.5,961.0 L1118.3,967.7 L1120.5,974.3 L1123.0,980.9 L1125.9,987.5 L1129.3,994.1 L1133.1,1000.7 L1137.5,1007.3 L1142.4,1013.9 L1147.9,1020.5 L1154.3,1027.1 L1161.6,1033.7 L1170.0,1040.3 L1180.1,1047.0 L1192.5,1053.6 L1207.5,1060.1 L1228.0,1035.6 L1220.3,1023.4 L1203.6,1006.8 L1190.0,992.6 L1180.5,980.0 L1173.2,963.1 L1170.5,946.4 L1169.5,926.9 L1171.1,911.1 L1176.3,896.6 L1183.4,878.2 L1194.8,859.7 L1207.9,844.0 L1220.2,828.7 L1227.0,819.3Z" fill="url(#lg8)" filter="url(#b5)"/>
<path d="M1157.0,880.0 L1155.8,883.2 L1154.5,886.4 L1153.3,889.6 L1152.0,892.8 L1150.8,896.0 L1149.6,899.2 L1148.4,902.4 L1147.3,905.6 L1146.1,908.8 L1145.0,912.0 L1144.7,915.2 L1144.4,918.4 L1144.0,921.6 L1143.7,924.8 L1143.6,928.0 L1143.7,931.2 L1143.9,934.4 L1144.1,937.6 L1144.2,940.8 L1144.4,944.0 L1144.7,947.2 L1145.2,950.4 L1145.7,953.6 L1146.2,956.8 L1146.7,960.0 L1147.5,963.2 L1148.9,966.4 L1150.3,969.6 L1151.7,972.8 L1153.1,976.0 L1154.9,979.2 L1157.3,982.4 L1159.7,985.6 L1162.1,988.8 L1164.9,992.0 L1168.0,995.2 L1171.1,998.4 L1174.2,1001.6 L1177.3,1004.8 L1180.5,1008.0 L1203.5,1008.0 L1200.3,1004.8 L1197.2,1001.6 L1194.1,998.4 L1191.0,995.2 L1187.9,992.0 L1185.1,988.8 L1182.7,985.6 L1180.3,982.4 L1177.9,979.2 L1176.1,976.0 L1174.7,972.8 L1173.3,969.6 L1171.9,966.4 L1170.5,963.2 L1169.7,960.0 L1169.2,956.8 L1168.7,953.6 L1168.2,950.4 L1167.7,947.2 L1167.4,944.0 L1167.2,940.8 L1167.1,937.6 L1166.9,934.4 L1166.7,931.2 L1166.6,928.0 L1166.7,924.8 L1167.0,921.6 L1167.4,918.4 L1167.7,915.2 L1168.0,912.0 L1169.1,908.8 L1170.3,905.6 L1171.4,902.4 L1172.6,899.2 L1173.8,896.0 L1175.0,892.8 L1176.3,889.6 L1177.5,886.4 L1178.8,883.2 L1180.0,880.0Z" fill="#ffffff" filter="url(#b7)"/>
<path d="M1308.5,792.0 L1326.1,798.8 L1339.0,805.6 L1349.3,812.4 L1358.0,819.2 L1365.5,826.0 L1372.0,832.8 L1377.8,839.6 L1382.8,846.4 L1387.3,853.2 L1391.2,860.0 L1394.7,866.8 L1397.7,873.6 L1400.3,880.4 L1402.5,887.2 L1404.4,894.0 L1405.9,900.8 L1407.0,907.6 L1407.8,914.4 L1408.3,921.2 L1408.5,928.0 L1408.3,934.8 L1407.8,941.6 L1407.0,948.4 L1405.9,955.2 L1404.4,962.0 L1402.5,968.8 L1400.3,975.6 L1397.7,982.4 L1394.7,989.2 L1391.2,996.0 L1387.3,1002.8 L1382.8,1009.6 L1377.8,1016.4 L1372.0,1023.2 L1365.5,1030.0 L1358.0,1036.8 L1349.3,1043.6 L1339.0,1050.4 L1326.1,1057.2 L1308.5,1064.0 L1285.0,1036.0 L1293.5,1021.0 L1310.5,1004.0 L1324.0,990.0 L1333.0,978.0 L1340.0,962.0 L1342.5,946.0 L1343.5,927.0 L1342.0,912.0 L1337.0,898.0 L1330.0,880.0 L1319.0,862.0 L1306.0,846.5 L1293.5,831.0 L1286.0,819.0Z" fill="#424242" filter="url(#b14)" opacity="0.85"/>
<linearGradient id="lg9" gradientUnits="userSpaceOnUse" x1="0.0" y1="792.0" x2="0.0" y2="1068.0"><stop offset="0.000" stop-color="#575757"/><stop offset="0.040" stop-color="#4f4f4f"/><stop offset="0.083" stop-color="#424242"/><stop offset="0.138" stop-color="#303030"/><stop offset="0.210" stop-color="#1f1f1f"/><stop offset="0.320" stop-color="#121212"/><stop offset="0.750" stop-color="#0f0f0f"/><stop offset="0.826" stop-color="#141414"/><stop offset="0.900" stop-color="#212121"/><stop offset="0.953" stop-color="#363636"/><stop offset="1.000" stop-color="#454545"/></linearGradient>
<path d="M1309.5,795.9 L1324.5,802.4 L1336.9,809.0 L1347.0,815.7 L1355.4,822.3 L1362.7,828.9 L1369.1,835.5 L1374.6,842.1 L1379.5,848.7 L1383.9,855.3 L1387.7,861.9 L1391.1,868.5 L1394.0,875.1 L1396.5,881.7 L1398.7,888.3 L1400.5,895.0 L1402.0,901.6 L1403.1,908.2 L1403.9,914.8 L1404.3,921.4 L1404.5,928.0 L1404.3,934.6 L1403.9,941.2 L1403.1,947.8 L1402.0,954.4 L1400.5,961.0 L1398.7,967.7 L1396.5,974.3 L1394.0,980.9 L1391.1,987.5 L1387.7,994.1 L1383.9,1000.7 L1379.5,1007.3 L1374.6,1013.9 L1369.1,1020.5 L1362.7,1027.1 L1355.4,1033.7 L1347.0,1040.3 L1336.9,1047.0 L1324.5,1053.6 L1309.5,1060.1 L1289.0,1035.6 L1296.7,1023.4 L1313.4,1006.8 L1327.0,992.6 L1336.5,980.0 L1343.8,963.1 L1346.5,946.4 L1347.5,926.9 L1345.9,911.1 L1340.7,896.6 L1333.6,878.2 L1322.2,859.7 L1309.1,844.0 L1296.8,828.7 L1290.0,819.3Z" fill="url(#lg9)" filter="url(#b5)"/>
<path d="M1360.0,880.0 L1361.2,883.2 L1362.5,886.4 L1363.7,889.6 L1365.0,892.8 L1366.2,896.0 L1367.4,899.2 L1368.6,902.4 L1369.7,905.6 L1370.9,908.8 L1372.0,912.0 L1372.3,915.2 L1372.6,918.4 L1373.0,921.6 L1373.3,924.8 L1373.4,928.0 L1373.3,931.2 L1373.1,934.4 L1372.9,937.6 L1372.8,940.8 L1372.6,944.0 L1372.3,947.2 L1371.8,950.4 L1371.3,953.6 L1370.8,956.8 L1370.3,960.0 L1369.5,963.2 L1368.1,966.4 L1366.7,969.6 L1365.3,972.8 L1363.9,976.0 L1362.1,979.2 L1359.7,982.4 L1357.3,985.6 L1354.9,988.8 L1352.1,992.0 L1349.0,995.2 L1345.9,998.4 L1342.8,1001.6 L1339.7,1004.8 L1336.5,1008.0 L1313.5,1008.0 L1316.7,1004.8 L1319.8,1001.6 L1322.9,998.4 L1326.0,995.2 L1329.1,992.0 L1331.9,988.8 L1334.3,985.6 L1336.7,982.4 L1339.1,979.2 L1340.9,976.0 L1342.3,972.8 L1343.7,969.6 L1345.1,966.4 L1346.5,963.2 L1347.3,960.0 L1347.8,956.8 L1348.3,953.6 L1348.8,950.4 L1349.3,947.2 L1349.6,944.0 L1349.8,940.8 L1349.9,937.6 L1350.1,934.4 L1350.3,931.2 L1350.4,928.0 L1350.3,924.8 L1350.0,921.6 L1349.6,918.4 L1349.3,915.2 L1349.0,912.0 L1347.9,908.8 L1346.7,905.6 L1345.6,902.4 L1344.4,899.2 L1343.2,896.0 L1342.0,892.8 L1340.7,889.6 L1339.5,886.4 L1338.2,883.2 L1337.0,880.0Z" fill="#000000" filter="url(#b7)"/>
<linearGradient id="lg10" gradientUnits="userSpaceOnUse" x1="1085.0" y1="0.0" x2="1245.0" y2="0.0"><stop offset="0.000" stop-color="#ababab"/><stop offset="0.500" stop-color="#a4a4a4"/><stop offset="0.800" stop-color="#9e9e9e"/><stop offset="1.000" stop-color="#949494"/></linearGradient>
<path d="M1084.0,1102.0 L1244.0,1106.0 L1244.0,1143.0 L1084.0,1147.0Z" fill="url(#lg10)" filter="url(#b7)"/>
<path d="M1086.0,1122.0 L1140.0,1136.0 L1140.0,1146.0 L1086.0,1146.0Z" fill="#b2b2b2" filter="url(#b6)" opacity="0.6"/>
<linearGradient id="lg11" gradientUnits="userSpaceOnUse" x1="1433.0" y1="0.0" x2="1278.0" y2="0.0"><stop offset="0.000" stop-color="#585858"/><stop offset="0.500" stop-color="#5c5c5c"/><stop offset="0.800" stop-color="#636363"/><stop offset="1.000" stop-color="#6e6e6e"/></linearGradient>
<path d="M1433.0,1102.0 L1276.0,1106.0 L1276.0,1143.0 L1433.0,1147.0Z" fill="url(#lg11)" filter="url(#b7)"/>
</g></g>
<rect x="1029.2" y="689.0" width="455.6" height="479.5" fill="none" stroke="#56705a" stroke-width="1.3"/>
<text transform="translate(1041.25,725.48) scale(1,0.9936)" font-size="53.79" font-weight="bold" fill="#000">(e)</text>
<text transform="translate(1141.09,745.50) scale(1.197,1.0000)" font-size="50.00" font-style="italic" style="font-family:'DejaVu Serif','Liberation Serif',serif" fill="#f01010">f</text>
<text transform="translate(1163.50,751.69) scale(1,1.1305)" font-size="27.61" font-style="italic" fill="#f01010">3</text>
<text transform="translate(1180.79,743.95) scale(1,0.9731)" font-size="54.10" fill="#f01010">=1.073THz</text>
<linearGradient id="cb" gradientUnits="userSpaceOnUse" x1="0" y1="692.3" x2="0" y2="1168.3"><stop offset="0" stop-color="#800000"/><stop offset="0.125" stop-color="#ff0000"/><stop offset="0.375" stop-color="#ffff00"/><stop offset="0.625" stop-color="#00ffff"/><stop offset="0.875" stop-color="#0000ff"/><stop offset="1" stop-color="#000080"/></linearGradient>
<rect x="1524.2" y="692.3" width="46.0" height="476.0" fill="url(#cb)" stroke="#402020" stroke-width="1"/>
<text transform="translate(1581.24,731.23) scale(1,1.0428)" font-size="35.31" fill="#000">Max</text>
<text transform="translate(1573.62,1162.90) scale(1,0.9695)" font-size="35.86" fill="#000">Min</text>
<defs>
<filter id="jet" filterUnits="userSpaceOnUse" x="0" y="660" width="1650" height="516" color-interpolation-filters="sRGB"><feComponentTransfer><feFuncR type="table" tableValues="0 0 0 0 0.5 1 1 1 0.5"/><feFuncG type="table" tableValues="0 0 0.5 1 1 1 0.5 0 0"/><feFuncB type="table" tableValues="0.5 1 1 1 0.5 0 0 0 0"/></feComponentTransfer></filter>
<filter id="b5" filterUnits="userSpaceOnUse" x="-100" y="560" width="1850" height="716" color-interpolation-filters="sRGB"><feGaussianBlur stdDeviation="5"/></filter>
<filter id="b6" filterUnits="userSpaceOnUse" x="-100" y="560" width="1850" height="716" color-interpolation-filters="sRGB"><feGaussianBlur stdDeviation="6"/></filter>
<filter id="b6_5" filterUnits="userSpaceOnUse" x="-100" y="560" width="1850" height="716" color-interpolation-filters="sRGB"><feGaussianBlur stdDeviation="6.5"/></filter>
<filter id="b7" filterUnits="userSpaceOnUse" x="-100" y="560" width="1850" height="716" color-interpolation-filters="sRGB"><feGaussianBlur stdDeviation="7"/></filter>
<filter id="b8" filterUnits="userSpaceOnUse" x="-100" y="560" width="1850" height="716" color-interpolation-filters="sRGB"><feGaussianBlur stdDeviation="8"/></filter>
<filter id="b9" filterUnits="userSpaceOnUse" x="-100" y="560" width="1850" height="716" color-interpolation-filters="sRGB"><feGaussianBlur stdDeviation="9"/></filter>
<filter id="b10" filterUnits="userSpaceOnUse" x="-100" y="560" width="1850" height="716" color-interpolation-filters="sRGB"><feGaussianBlur stdDeviation="10"/></filter>
<filter id="b11" filterUnits="userSpaceOnUse" x="-100" y="560" width="1850" height="716" color-interpolation-filters="sRGB"><feGaussianBlur stdDeviation="11"/></filter>
<filter id="b14" filterUnits="userSpaceOnUse" x="-100" y="560" width="1850" height="716" color-interpolation-filters="sRGB"><feGaussianBlur stdDeviation="14"/></filter>
<filter id="b20" filterUnits="userSpaceOnUse" x="-100" y="560" width="1850" height="716" color-interpolation-filters="sRGB"><feGaussianBlur stdDeviation="20"/></filter>
<filter id="b24" filterUnits="userSpaceOnUse" x="-100" y="560" width="1850" height="716" color-interpolation-filters="sRGB"><feGaussianBlur stdDeviation="24"/></filter>
<filter id="b25" filterUnits="userSpaceOnUse" x="-100" y="560" width="1850" height="716" color-interpolation-filters="sRGB"><feGaussianBlur stdDeviation="25"/></filter>
<filter id="b28" filterUnits="userSpaceOnUse" x="-100" y="560" width="1850" height="716" color-interpolation-filters="sRGB"><feGaussianBlur stdDeviation="28"/></filter>
</defs>
</svg></body></html>
